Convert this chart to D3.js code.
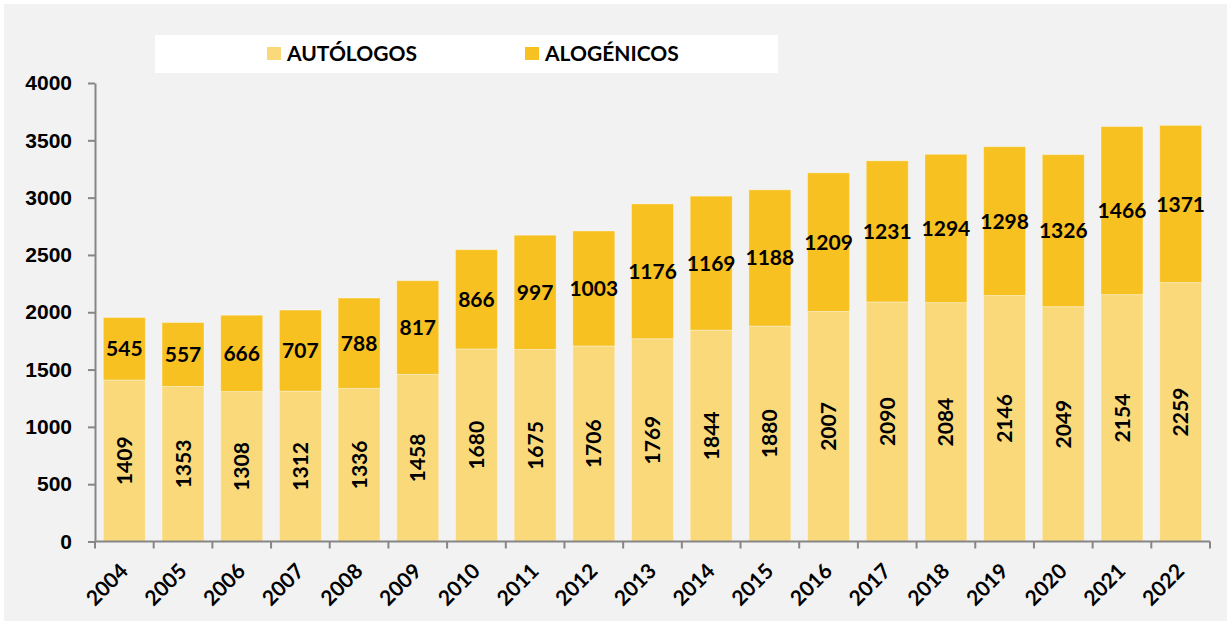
<!DOCTYPE html>
<html>
<head>
<meta charset="utf-8">
<script src="https://cdn.jsdelivr.net/npm/d3@7"></script>
<style>
  body { margin: 0; background: #fff; }
  svg { display: block; font-family: Lato, "Open Sans", sans-serif; font-weight: 700; }
  .axis path, .axis line { stroke: #868686; stroke-width: 2; }
  .axis text { fill: #000; font-size: 21px; font-weight: 700; }
  .lbl { font-size: 21px; fill: #000; }
</style>
</head>
<body>
<svg width="1230" height="623"></svg>
<script>
// data
var years = ["2004","2005","2006","2007","2008","2009","2010","2011","2012","2013",
             "2014","2015","2016","2017","2018","2019","2020","2021","2022"];
var autologos = [1409,1353,1308,1312,1336,1458,1680,1675,1706,1769,1844,1880,2007,2090,2084,2146,2049,2154,2259];
var alogenicos = [545,557,666,707,788,817,866,997,1003,1176,1169,1188,1209,1231,1294,1298,1326,1466,1371];
var yTicks = [0,500,1000,1500,2000,2500,3000,3500,4000];
var seriesNames = ["AUTÓLOGOS", "ALOGÉNICOS"];
var colors = ["#fad97b", "#f7c122"];

var svg = d3.select("svg"),
    margin = {top: 83, left: 95, right: 20, bottom: 81},
    width = 1210 - margin.left,
    height = 541.5 - margin.top;

// panel background
svg.append("rect")
    .attr("x", 4).attr("y", 4)
    .attr("width", 1223).attr("height", 617)
    .attr("fill", "#f2f2f2");

var data = years.map(function(y, i) {
  return {year: y, a: autologos[i], b: alogenicos[i]};
});

var x = d3.scaleBand().domain(years).range([0, width]).paddingInner(0.285).paddingOuter(0.1425),
    y = d3.scaleLinear().domain([0, 4000]).range([height, 0]);

var chart = svg.append("g")
    .attr("transform", "translate(" + margin.left + "," + margin.top + ")");

var stack = d3.stack().keys(["a", "b"])(data);

var layer = chart.selectAll(".layer")
    .data(stack)
  .enter().append("g")
    .attr("class", "layer")
    .attr("fill", function(d, i) { return colors[i]; });

layer.selectAll("rect")
    .data(function(d) { return d; })
  .enter().append("rect")
    .attr("x", function(d) { return x(d.data.year); })
    .attr("y", function(d) { return y(d[1]); })
    .attr("width", x.bandwidth())
    .attr("height", function(d) { return y(d[0]) - y(d[1]); })
    .attr("stroke", "rgba(255,255,255,0.35)")
    .attr("stroke-width", 1);

// y axis
chart.append("g")
    .attr("class", "axis y")
    .call(d3.axisLeft(y).tickValues(yTicks).tickFormat(d3.format("d"))
      .tickSize(7).tickSizeOuter(0).tickPadding(16));

// x axis: ticks on band boundaries
var xAxis = chart.append("g")
    .attr("class", "axis x")
    .attr("transform", "translate(0," + height + ")");
xAxis.append("line")
    .attr("x1", 0).attr("x2", width);
var step = x.step(),
    x0 = x(years[0]) - step * x.paddingOuter();
xAxis.selectAll(".tk")
    .data(d3.range(years.length + 1))
  .enter().append("line")
    .attr("x1", function(i) { return x0 + i * step; })
    .attr("x2", function(i) { return x0 + i * step; })
    .attr("y1", 0).attr("y2", 7);
xAxis.selectAll(".yr")
    .data(years)
  .enter().append("text")
    .attr("text-anchor", "end")
    .attr("transform", function(d) {
      return "translate(" + (x(d) + x.bandwidth() / 2 + 5) + ",31) rotate(-45)";
    })
    .text(function(d) { return d; });

// value labels: autologos rotated
chart.append("g").selectAll("text")
    .data(stack[0])
  .enter().append("text")
    .attr("class", "lbl")
    .attr("text-anchor", "middle")
    .attr("dy", "0.36em")
    .attr("transform", function(d) {
      return "translate(" + (x(d.data.year) + x.bandwidth() / 2) + "," + ((y(d[0]) + y(d[1])) / 2) + ") rotate(-90)";
    })
    .text(function(d) { return d.data.a; });

// value labels: alogenicos
chart.append("g").selectAll("text")
    .data(stack[1])
  .enter().append("text")
    .attr("class", "lbl")
    .attr("text-anchor", "middle")
    .attr("dy", "0.36em")
    .attr("x", function(d) { return x(d.data.year) + x.bandwidth() / 2; })
    .attr("y", function(d) { return (y(d[0]) + y(d[1])) / 2; })
    .text(function(d) { return d.data.b; });

// legend
var legend = svg.append("g");
legend.append("rect")
    .attr("x", 155).attr("y", 35)
    .attr("width", 623).attr("height", 38)
    .attr("fill", "#fff");
var legX = [267, 525];
seriesNames.forEach(function(name, i) {
  legend.append("rect")
      .attr("x", legX[i]).attr("y", 47)
      .attr("width", 14).attr("height", 13)
      .attr("fill", colors[i]);
  legend.append("text")
      .attr("class", "lbl")
      .attr("x", legX[i] + 20).attr("y", 61)
      .text(name);
});
</script>
</body>
</html>
